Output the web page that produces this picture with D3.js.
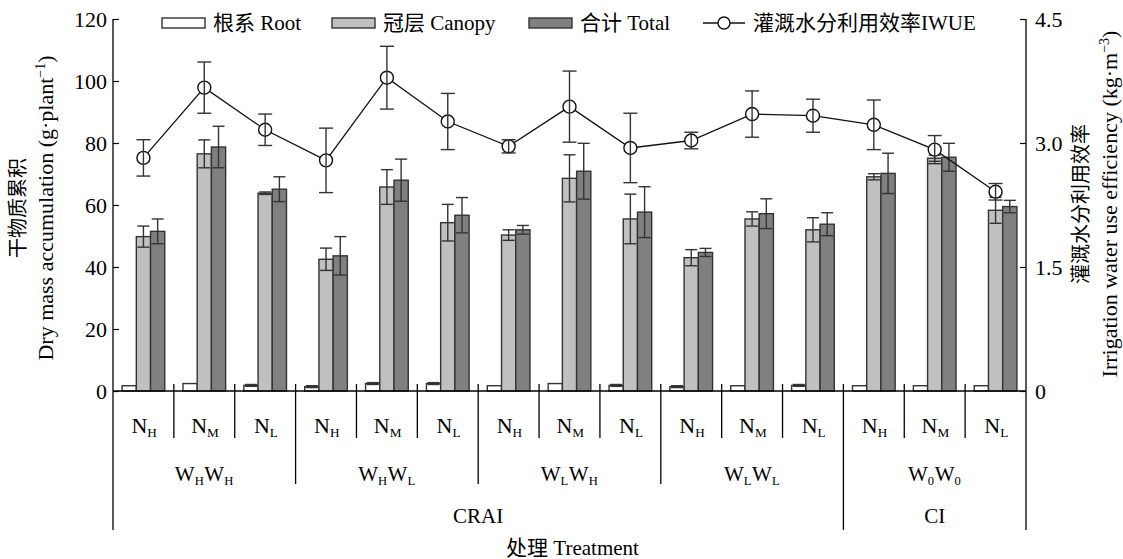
<!DOCTYPE html>
<html><head><meta charset="utf-8">
<script src="https://cdn.jsdelivr.net/npm/d3@7"></script>
<style>
body{margin:0;background:#fff;}
svg text{font-family:"Liberation Serif","Noto Sans CJK SC",serif;fill:#000;}
</style></head>
<body><svg id="c" width="1123" height="559"></svg>
<script>
// ---- data ----
const categories = ["WHWH-NH","WHWH-NM","WHWH-NL","WHWL-NH","WHWL-NM","WHWL-NL","WLWH-NH","WLWH-NM","WLWH-NL","WLWL-NH","WLWL-NM","WLWL-NL","W0W0-NH","W0W0-NM","W0W0-NL"];
const nSubs = ["H","M","L","H","M","L","H","M","L","H","M","L","H","M","L"];
const wSubs = [["H","H"],["H","L"],["L","H"],["L","L"],["0","0"]];
const systems = ["CRAI","CI"];
const systemSpans = [4,1];
const rootValues   = [1.7,2.4,1.8,1.4,2.4,2.4,1.7,2.4,1.8,1.4,1.7,1.8,1.7,1.7,1.7];
const rootErr      = [0,0,0.3,0.3,0.3,0.3,0,0,0.3,0.3,0,0.3,0,0,0];
const canopyValues = [49.8,76.5,63.8,42.5,65.8,54.3,50.3,68.6,55.5,43.0,55.5,52.0,69.1,75.1,58.3];
const canopyErr    = [3.4,4.5,0.4,3.6,5.6,5.9,1.7,7.6,8.0,2.6,2.3,3.9,1.0,1.0,4.2];
const totalValues  = [51.5,78.7,65.1,43.6,68.0,56.7,52.0,70.9,57.7,44.7,57.2,53.8,70.2,75.4,59.5];
const totalErr     = [4.0,6.7,4.0,6.2,6.8,5.7,1.4,9.0,8.2,1.3,4.8,3.7,6.5,4.5,2.0];
const iwueValues   = [2.82,3.67,3.16,2.79,3.79,3.26,2.96,3.44,2.94,3.03,3.35,3.33,3.22,2.92,2.41];
const iwueErr      = [0.22,0.31,0.19,0.39,0.38,0.34,0.08,0.43,0.42,0.10,0.28,0.20,0.30,0.17,0.10];
const leftTicks = [0,20,40,60,80,100,120];
const rightTicks = [0,1.5,3.0,4.5];

const seriesNames = ["根系 Root","冠层 Canopy","合计 Total"];
const seriesColors = ["#ffffff","#c0c0c0","#808080"];
const series = [
  {vals:rootValues, err:rootErr},
  {vals:canopyValues, err:canopyErr},
  {vals:totalValues, err:totalErr}
];

// ---- layout ----
const svg = d3.select("#c");
const X0 = 113, X1 = 1026, Y0 = 391, Ytop = 19, Ybot = 530;
const STROKE = "#333";
const x = d3.scaleBand().domain(d3.range(categories.length)).range([X0, X1]).padding(0);
const xs = d3.scaleBand().domain([0,1,2]).range([9.1, x.bandwidth()-9.1]).padding(0);
const y = d3.scaleLinear().domain([0,120]).range([Y0, Ytop]);
const y2 = d3.scaleLinear().domain([0,4.5]).range([Y0, Ytop]);
const cx = i => x(i) + x.bandwidth()/2;

// bars
series.forEach((s, k) => {
  const g = svg.append("g");
  g.selectAll("rect").data(s.vals).join("rect")
    .attr("x", (d,i) => x(i) + xs(k))
    .attr("y", d => y(d))
    .attr("width", xs.bandwidth())
    .attr("height", d => Y0 - y(d))
    .attr("fill", seriesColors[k]).attr("stroke", STROKE).attr("stroke-width", 1.4);
});
// bar error bars
const cap = 12;
series.forEach((s, k) => {
  const g = svg.append("g").attr("stroke", STROKE).attr("stroke-width", 1.4).attr("fill","none");
  s.vals.forEach((v,i) => {
    const e = s.err[i]; if (!e) return;
    const mx = x(i) + xs(k) + xs.bandwidth()/2;
    g.append("line").attr("x1",mx).attr("x2",mx).attr("y1",y(v+e)).attr("y2",y(v-e));
    g.append("line").attr("x1",mx-cap/2).attr("x2",mx+cap/2).attr("y1",y(v+e)).attr("y2",y(v+e));
    g.append("line").attr("x1",mx-cap/2).attr("x2",mx+cap/2).attr("y1",y(v-e)).attr("y2",y(v-e));
  });
});

// IWUE line
svg.append("path").datum(iwueValues)
  .attr("d", d3.line().x((d,i)=>cx(i)).y(d=>y2(d)))
  .attr("fill","none").attr("stroke","#111").attr("stroke-width",1.3);
svg.append("g").selectAll("circle").data(iwueValues).join("circle")
  .attr("cx",(d,i)=>cx(i)).attr("cy",d=>y2(d)).attr("r",6.5)
  .attr("fill","#fff").attr("stroke","#111").attr("stroke-width",1.4);
{
  const g = svg.append("g").attr("stroke", STROKE).attr("stroke-width", 1.4);
  iwueValues.forEach((v,i) => {
    const e = iwueErr[i], mx = cx(i);
    g.append("line").attr("x1",mx).attr("x2",mx).attr("y1",y2(v+e)).attr("y2",y2(v-e));
    g.append("line").attr("x1",mx-cap/2-1).attr("x2",mx+cap/2+1).attr("y1",y2(v+e)).attr("y2",y2(v+e));
    g.append("line").attr("x1",mx-cap/2-1).attr("x2",mx+cap/2+1).attr("y1",y2(v-e)).attr("y2",y2(v-e));
  });
}

// axes
const axL = svg.append("g").attr("transform",`translate(${X0},0)`)
  .call(d3.axisLeft(y).tickValues(leftTicks).tickSize(-6).tickPadding(6).tickSizeOuter(0));
const axR = svg.append("g").attr("transform",`translate(${X1},0)`)
  .call(d3.axisRight(y2).tickValues(rightTicks).tickSize(-6).tickPadding(9).tickSizeOuter(0)
    .tickFormat(d => d===0 ? "0" : d.toFixed(1)));
[axL, axR].forEach(a => {
  a.select(".domain").remove();
  a.selectAll("line").attr("stroke","#000").attr("stroke-width",1.2);
  a.selectAll("text").attr("font-size",22).attr("font-family","Liberation Serif").attr("fill","#000");
});
const lines = svg.append("g").attr("stroke","#000").attr("stroke-width",1.3);
lines.append("line").attr("x1",X0).attr("x2",X0).attr("y1",Ytop).attr("y2",Ybot);
lines.append("line").attr("x1",X1).attr("x2",X1).attr("y1",Ytop).attr("y2",Ybot);
lines.append("line").attr("x1",X0).attr("x2",X1).attr("y1",Y0).attr("y2",Y0);
for (let i = 1; i < categories.length; i++) {
  const bx = x(i);
  let yb = 438;
  if (i % 3 === 0) yb = 484;
  if (i === 12) yb = Ybot;
  lines.append("line").attr("x1",bx).attr("x2",bx).attr("y1",Y0-7).attr("y2",yb);
}

// x labels
function subLabel(g, xc, yb, parts, fs) {
  const t = g.append("text").attr("x", xc).attr("y", yb).attr("text-anchor","middle").attr("font-size", fs);
  parts.forEach(([main, sub]) => {
    t.append("tspan").text(main);
    t.append("tspan").text(sub).attr("font-size", fs*0.6).attr("dy", 4);
    t.append("tspan").text("\u200a").attr("dy", -4).attr("font-size", fs*0.3);
  });
  return t;
}
const lab = svg.append("g");
nSubs.forEach((s,i) => subLabel(lab, cx(i)+1, 433, [["N", s]], 22));
wSubs.forEach((w,j) => {
  const xc = (x(j*3) + x(j*3+2) + x.bandwidth())/2;
  subLabel(lab, xc, 481, [["W", w[0]],["W", w[1]]], 21);
});
let start = 0;
systems.forEach((s,j) => {
  const a = x(start*3), b = x((start+systemSpans[j])*3 - 1) + x.bandwidth();
  lab.append("text").attr("x",(a+b)/2).attr("y",523).attr("text-anchor","middle").attr("font-size",21).text(s);
  start += systemSpans[j];
});
lab.append("text").attr("x",(X0+X1)/2+3).attr("y",555).attr("text-anchor","middle").attr("font-size",21).text("处理 Treatment");

// axis titles
const tl = svg.append("g").attr("transform","translate(25,208) rotate(-90)");
tl.append("text").attr("text-anchor","middle").attr("font-size",20).text("干物质累积");
const tl2 = tl.append("text").attr("y",28).attr("text-anchor","middle").attr("font-size",22);
tl2.append("tspan").text("Dry mass accumulation (g·plant");
tl2.append("tspan").text("−1").attr("font-size",14).attr("dy",-8);
tl2.append("tspan").text(")").attr("dy",8);

const tr = svg.append("g").attr("transform","translate(1088,204) rotate(-90)");
tr.append("text").attr("text-anchor","middle").attr("font-size",20).text("灌溉水分利用效率");
const tr2 = tr.append("text").attr("y",29).attr("text-anchor","middle").attr("font-size",22);
tr2.append("tspan").text("Irrigation water use efficiency (kg·m");
tr2.append("tspan").text("−3").attr("font-size",14).attr("dy",-8);
tr2.append("tspan").text(")").attr("dy",8);

// legend
const leg = svg.append("g");
const swX = [162, 332, 529];
seriesNames.forEach((n,k) => {
  leg.append("rect").attr("x",swX[k]).attr("y",18).attr("width",43).attr("height",10)
    .attr("fill",seriesColors[k]).attr("stroke",STROKE).attr("stroke-width",1.4);
  leg.append("text").attr("x",swX[k]+51).attr("y",30).attr("font-size",21).text(n);
});
leg.append("line").attr("x1",703).attr("x2",745).attr("y1",23).attr("y2",23).attr("stroke","#111").attr("stroke-width",1.3);
leg.append("circle").attr("cx",724).attr("cy",23).attr("r",6).attr("fill","#fff").attr("stroke","#111").attr("stroke-width",1.4);
leg.append("text").attr("x",753).attr("y",30).attr("font-size",21).text("灌溉水分利用效率IWUE");
</script></body></html>
